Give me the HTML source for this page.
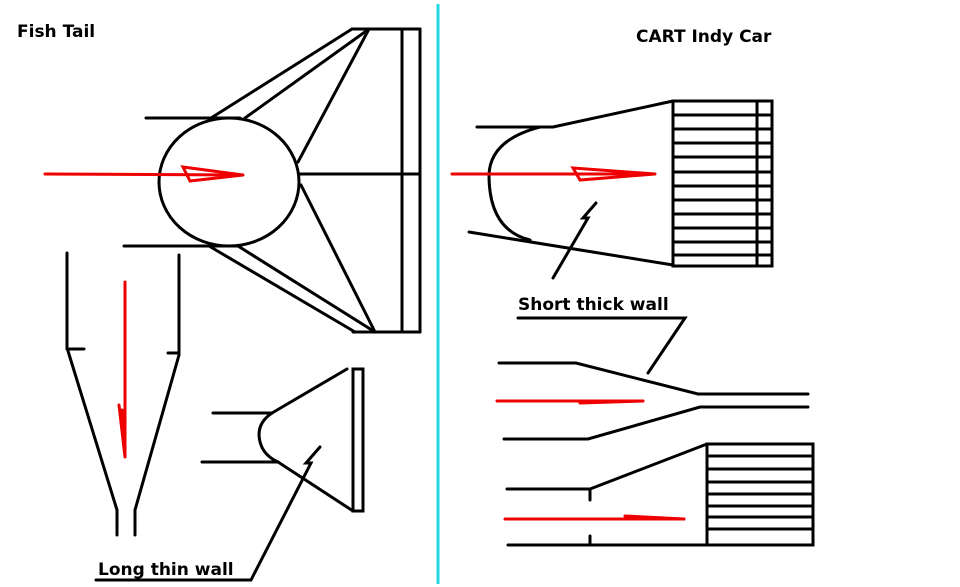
<!DOCTYPE html>
<html><head><style>body{margin:0;background:#fff}svg{display:block}</style></head><body>
<svg width="960" height="587" viewBox="0 0 960 587" xmlns="http://www.w3.org/2000/svg" font-family="DejaVu Sans, sans-serif" font-weight="bold">
<rect width="960" height="587" fill="#fff"/>
<line x1="438" y1="4" x2="438" y2="584" stroke="#22d8e6" stroke-width="3"/>
<g stroke="#000" stroke-width="3" fill="none" stroke-linecap="round">
<ellipse cx="229" cy="182" rx="70" ry="64"/>
<line x1="146" y1="118" x2="240" y2="118"/>
<line x1="124" y1="246" x2="238" y2="246"/>
<line x1="211" y1="118" x2="352" y2="29"/>
<line x1="245" y1="118" x2="369" y2="29"/>
<line x1="298" y1="162" x2="369" y2="29"/>
<line x1="352" y1="29" x2="420" y2="29"/>
<line x1="402" y1="29" x2="402" y2="332"/>
<line x1="420" y1="29" x2="420" y2="332"/>
<line x1="300" y1="174" x2="420" y2="174"/>
<line x1="209" y1="246" x2="355" y2="332"/>
<line x1="238" y1="246" x2="375" y2="332"/>
<line x1="301" y1="185" x2="375" y2="332"/>
<line x1="353" y1="332" x2="420" y2="332"/>
<line x1="67" y1="253" x2="67" y2="349"/>
<line x1="179" y1="255" x2="179" y2="355"/>
<line x1="67" y1="349" x2="84" y2="349"/>
<line x1="168" y1="353" x2="179" y2="353"/>
<line x1="68" y1="351" x2="117" y2="510"/>
<line x1="179" y1="355" x2="135" y2="510"/>
<line x1="117" y1="510" x2="117" y2="535"/>
<line x1="135" y1="510" x2="135" y2="535"/>
<line x1="213" y1="413" x2="272" y2="413"/>
<line x1="202" y1="462" x2="278" y2="462"/>
<path d="M272 413 Q254 425 261 445 Q265 456 278 462"/>
<line x1="272" y1="413" x2="347" y2="369"/>
<line x1="278" y1="462" x2="353" y2="511"/>
<rect x="353" y="369" width="10" height="142"/>
<path d="M320 447 L306 463 L311 463 L251 580 L96 580"/>
<line x1="477" y1="127" x2="553" y2="127"/>
<line x1="553" y1="127" x2="673" y2="101"/>
<path d="M540 127 Q490 140 489 175 Q489 230 530 240"/>
<line x1="469" y1="232" x2="673" y2="265"/>
<rect x="673" y="101" width="99" height="165"/>
<line x1="757" y1="101" x2="757" y2="266"/>
<line x1="673" y1="115" x2="772" y2="115"/>
<line x1="673" y1="129" x2="772" y2="129"/>
<line x1="673" y1="143" x2="772" y2="143"/>
<line x1="673" y1="157" x2="772" y2="157"/>
<line x1="673" y1="172" x2="772" y2="172"/>
<line x1="673" y1="186" x2="772" y2="186"/>
<line x1="673" y1="200" x2="772" y2="200"/>
<line x1="673" y1="214" x2="772" y2="214"/>
<line x1="673" y1="228" x2="772" y2="228"/>
<line x1="673" y1="242" x2="772" y2="242"/>
<line x1="673" y1="255" x2="772" y2="255"/>
<path d="M596 203 L583 218 L588 218 L553 278"/>
<path d="M518 318 L685 318 L648 373"/>
<path d="M499 363 L576 363 L698 394 L808 394"/>
<path d="M504 439 L588 439 L700 407 L808 407"/>
<path d="M507 489 L590 489 L707 444"/>
<line x1="590" y1="489" x2="590" y2="500"/>
<line x1="590" y1="536" x2="590" y2="545"/>
<line x1="508" y1="545" x2="813" y2="545"/>
<rect x="707" y="444" width="106" height="101"/>
<line x1="707" y1="456" x2="813" y2="456"/>
<line x1="707" y1="469" x2="813" y2="469"/>
<line x1="707" y1="482" x2="813" y2="482"/>
<line x1="707" y1="494" x2="813" y2="494"/>
<line x1="707" y1="506" x2="813" y2="506"/>
<line x1="707" y1="517" x2="813" y2="517"/>
<line x1="707" y1="529" x2="813" y2="529"/>
</g>
<g stroke="#e00" stroke-width="3" fill="none" stroke-linecap="round">
<line x1="45" y1="174" x2="243" y2="175"/>
<path d="M183 167 L243 175 L190 181 Z"/>
<line x1="125" y1="282" x2="125" y2="457"/>
<path d="M119 405 L125 457 L122 410"/>
<line x1="452" y1="174" x2="655" y2="174"/>
<path d="M573 168 L655 174 L580 180 Z"/>
<line x1="497" y1="401" x2="643" y2="401"/>
<path d="M580 403 L643 401"/>
<line x1="505" y1="519" x2="684" y2="519"/>
<path d="M625 516 L684 519"/>
</g>
<text x="17" y="37" font-size="17">Fish Tail</text>
<text x="636" y="42" font-size="17">CART Indy Car</text>
<text x="518" y="310" font-size="17">Short thick wall</text>
<text x="98" y="575" font-size="17">Long thin wall</text>
</svg>
</body></html>
